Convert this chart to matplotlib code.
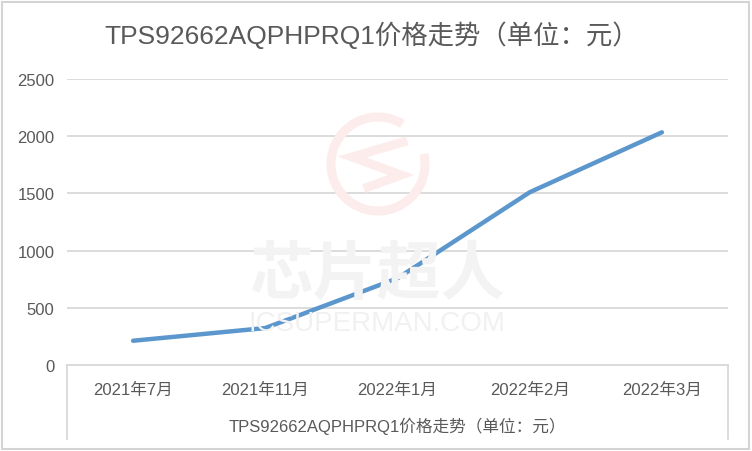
import numpy as np
import matplotlib.pyplot as plt
from matplotlib.patches import Arc, Rectangle

## Data
months = ['2021年7月', '2021年11月', '2022年1月', '2022年2月', '2022年3月']
prices = [212, 323, 758, 1510, 2034]
y_ticks = [0, 500, 1000, 1500, 2000, 2500]
title = 'TPS92662AQPHPRQ1价格走势（单位：元）'

plt.rcParams['font.family'] = ['Liberation Sans', 'Noto Sans CJK SC', 'DejaVu Sans']
text_color = '#595959'
grid_color = '#d9d9d9'

W, H = 752, 452
fig = plt.figure(figsize=(W / 100, H / 100), dpi=100)
fig.patch.set_facecolor('white')

## outer frame of the picture
fig.patches.append(Rectangle((2 / W, 2 / H), 1 - 5 / W, 1 - 5 / H, transform=fig.transFigure,
                             fill=False, edgecolor='#d4d4d4', linewidth=1.5))

## watermark (faint logo + text)
wm_red = '#fcecec'
fig.patches.append(Arc((378 / W, 1 - 165 / H), 94 / W, 94 / H, transform=fig.transFigure,
                       theta1=70, theta2=380, edgecolor=wm_red, linewidth=6.5, zorder=0))
zx = np.array([403, 352, 401, 368]) / W
zy = 1 - np.array([143, 158, 176, 188]) / H
fig.lines.append(plt.Line2D(zx, zy, transform=fig.transFigure, color=wm_red, linewidth=6.5,
                            solid_joinstyle='miter', zorder=0))
fig.text(377 / W, 1 - 275 / H, '芯片超人', ha='center', va='center', fontsize=46,
         fontweight='bold', color='#f3f3f3', family=['Noto Sans CJK SC'], zorder=0)
fig.text(377 / W, 1 - 324 / H, 'ICSUPERMAN.COM', ha='center', va='center', fontsize=20,
         color='#f1f1f1', zorder=0)

## plot area
left, right, top, bottom = 67, 728, 80, 366
ax = fig.add_axes([left / W, 1 - bottom / H, (right - left) / W, (bottom - top) / H])
ax.set_facecolor('none')
x = np.arange(len(months))
ax.plot(x, prices, color='#5b96cc', linewidth=3.2, solid_capstyle='round', zorder=3)

ax.set_xlim(-0.5, len(months) - 0.5)
ax.set_ylim(0, 2500)
ax.set_yticks(y_ticks)
ax.set_yticklabels([str(v) for v in y_ticks])
ax.set_xticks(x)
ax.set_xticklabels(months)
ax.tick_params(axis='y', length=0, pad=9, labelsize=12, labelcolor=text_color)
ax.tick_params(axis='x', length=0, pad=12, labelsize=12, labelcolor=text_color)
ax.grid(axis='y', color=grid_color, linewidth=1.3)
ax.set_axisbelow(True)
for side in ['left', 'right', 'top']:
    ax.spines[side].set_visible(False)
ax.spines['bottom'].set_color(grid_color)
ax.spines['bottom'].set_linewidth(1.3)

## box below the axis (Excel-style category table)
depth = (440 - bottom) / (bottom - top)
for xa in [0, 1]:
    ax.plot([xa, xa], [0, -depth], transform=ax.transAxes, color=grid_color,
            linewidth=1.3, clip_on=False)

ax.set_xlabel(title, fontsize=12, color=text_color, labelpad=14)

fig.text(372 / W, 1 - 35 / H, title, ha='center', va='center', fontsize=19, color=text_color)

fig.savefig('out.png', dpi=100)
